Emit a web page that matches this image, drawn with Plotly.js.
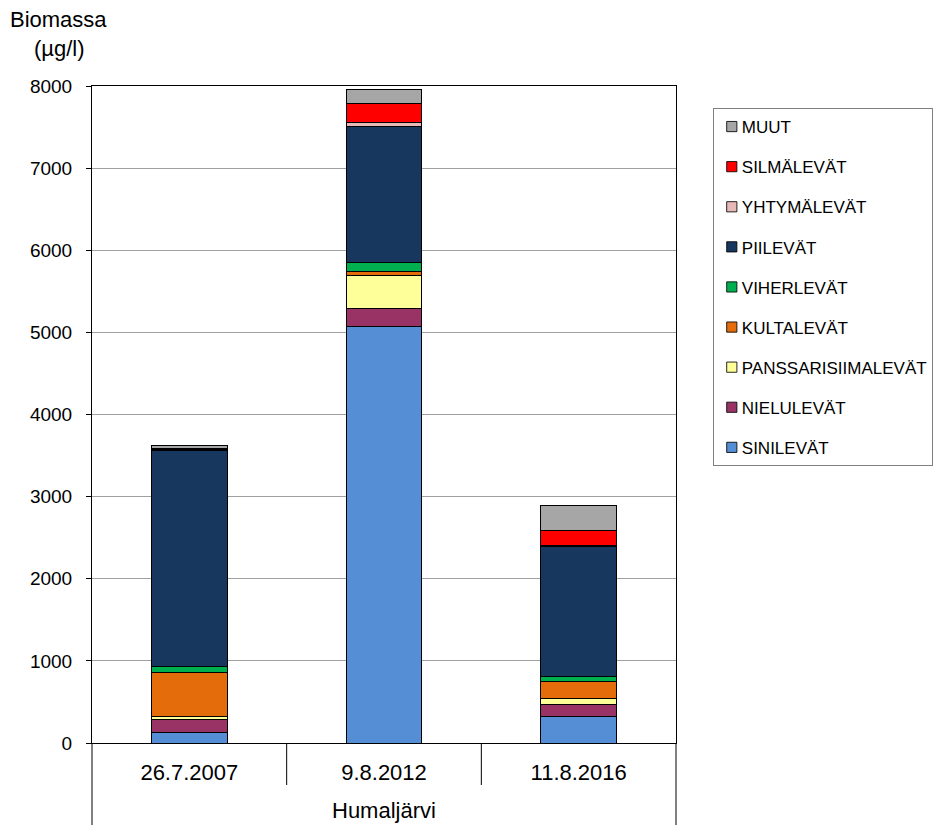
<!DOCTYPE html>
<html>
<head>
<meta charset="utf-8">
<script src="https://cdn.plot.ly/plotly-3.0.1.min.js"></script>
<style>
  html, body { margin: 0; padding: 0; background: #fff; }
  #chart { width: 941px; height: 825px; }
</style>
</head>
<body>
<div id="chart"></div>
<script>
// Kasviplanktonin biomassa (µg/l) leväryhmittäin, Humaljärvi
const lake = "Humaljärvi";
const dates = ["26.7.2007", "9.8.2012", "11.8.2016"];

const sinilevat = [130, 5075, 320];
const nielulevat = [160, 210, 150];
const panssarisiimalevat = [30, 405, 73];
const kultalevat = [536, 49, 211];
const viherlevat = [70, 106, 61];
const piilevat = [2634, 1663, 1575];
const yhtymalevat = [12, 53, 20];
const silmalevat = [12, 232, 182];
const muut = [40, 162, 300];

const groups = [
  { name: "SINILEVÄT", y: sinilevat, color: "#558ED5" },
  { name: "NIELULEVÄT", y: nielulevat, color: "#993366" },
  { name: "PANSSARISIIMALEVÄT", y: panssarisiimalevat, color: "#FFFF99" },
  { name: "KULTALEVÄT", y: kultalevat, color: "#E46C0A" },
  { name: "VIHERLEVÄT", y: viherlevat, color: "#00B050" },
  { name: "PIILEVÄT", y: piilevat, color: "#17375E" },
  { name: "YHTYMÄLEVÄT", y: yhtymalevat, color: "#E6B9B8" },
  { name: "SILMÄLEVÄT", y: silmalevat, color: "#FF0000" },
  { name: "MUUT", y: muut, color: "#A6A6A6" }
];

// Each series in its own legend group so the gap between entries can be set;
// legendrank puts the top of the stack first in the legend.
const traces = groups.map((g, i) => ({
  type: "bar",
  name: g.name,
  x: dates,
  y: g.y,
  legendgroup: "g" + i,
  legendrank: groups.length - i,
  marker: { color: g.color, line: { color: "#000000", width: 1 } },
  hoverinfo: "name+y"
}));

const font = { family: "Liberation Sans, Arial, sans-serif", color: "#000000" };

// Category table lines below the x axis (paper coordinates)
const plotH = 825 - 86 - 82;
const innerDrop = -42 / plotH;
const outerDrop = -82 / plotH;
const vline = (x, y1) => ({
  type: "line", xref: "paper", yref: "paper",
  x0: x, x1: x, y0: 0, y1: y1,
  line: { color: "#000000", width: 1 }
});

const layout = {
  width: 941,
  height: 825,
  margin: { l: 92, r: 265, t: 86, b: 82, autoexpand: false },
  paper_bgcolor: "#ffffff",
  plot_bgcolor: "#ffffff",
  barmode: "stack",
  bargap: 0.61,
  font: Object.assign({ size: 16 }, font),
  showlegend: true,
  legend: {
    x: 1.063, y: 0.9665, xanchor: "left", yanchor: "top",
    traceorder: "grouped",
    tracegroupgap: 15,
    itemwidth: 30,
    bordercolor: "#808080", borderwidth: 1,
    bgcolor: "#ffffff",
    font: Object.assign({ size: 17 }, font)
  },
  xaxis: {
    type: "category",
    showline: true, linecolor: "#000000", linewidth: 1,
    mirror: true,
    ticks: "",
    ticklabelstandoff: 10,
    tickfont: Object.assign({ size: 22 }, font),
    showgrid: false,
    automargin: false
  },
  yaxis: {
    range: [0, 8000],
    dtick: 1000,
    showline: true, linecolor: "#000000", linewidth: 1,
    mirror: true,
    ticks: "outside", ticklen: 5, tickcolor: "#000000",
    ticklabelstandoff: 10,
    showgrid: true, gridcolor: "#A0A0A0", gridwidth: 1,
    zeroline: false,
    automargin: false,
    tickfont: Object.assign({ size: 19 }, font)
  },
  shapes: [
    vline(0, outerDrop),
    vline(1 / 3, innerDrop),
    vline(2 / 3, innerDrop),
    vline(1, outerDrop)
  ],
  annotations: [
    {
      text: "Biomassa",
      xref: "paper", yref: "paper",
      x: -0.1438, y: 1.1005, xanchor: "left", yanchor: "middle",
      showarrow: false,
      font: Object.assign({ size: 22 }, font)
    },
    {
      text: "(µg/l)",
      xref: "paper", yref: "paper",
      x: -0.1027, y: 1.0578, xanchor: "left", yanchor: "middle",
      showarrow: false,
      font: Object.assign({ size: 22 }, font)
    },
    {
      text: lake,
      xref: "paper", yref: "paper",
      x: 0.5, y: -0.102, xanchor: "center", yanchor: "middle",
      showarrow: false,
      font: Object.assign({ size: 22 }, font)
    }
  ]
};

Plotly.newPlot("chart", traces, layout, { displayModeBar: false, staticPlot: true }).then(gd => {
  // Tighter legend entries: smaller swatches with the label right next to them.
  const shift = 12;
  gd.querySelectorAll(".legend .legendtext").forEach(t => {
    const x = parseFloat(t.getAttribute("x")) || 0;
    t.setAttribute("x", x - shift);
  });
  gd.querySelectorAll(".legend .legendpoints path").forEach(p => {
    const tr = p.getAttribute("transform") || "";
    p.setAttribute("transform", tr + " translate(-2,0) scale(0.85)");
  });
  const bg = gd.querySelector(".legend rect.bg");
  if (bg) {
    const w = parseFloat(bg.getAttribute("width"));
    bg.setAttribute("width", w - shift);
  }
});
</script>
</body>
</html>
